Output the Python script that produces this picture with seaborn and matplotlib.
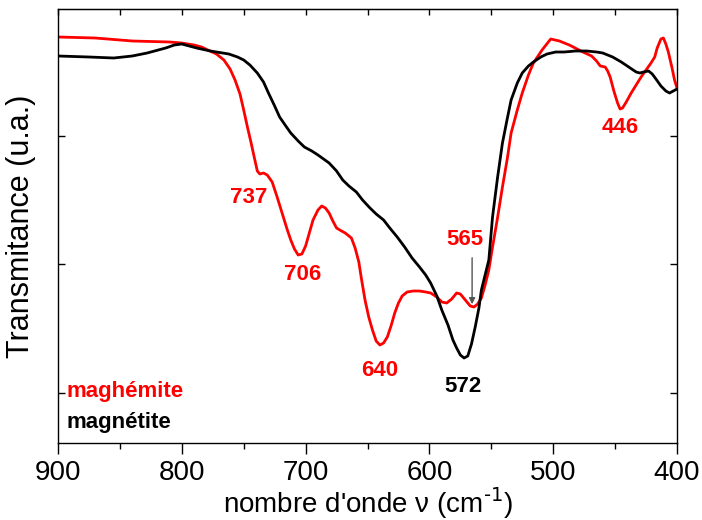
import numpy as np
import pandas as pd
import matplotlib
matplotlib.use("Agg")
import matplotlib.pyplot as plt
import seaborn as sns

# spectra (wavenumber in cm-1, transmittance in a.u.)
wn_maghemite = [900, 870, 840, 810, 800, 790, 784, 779, 772, 766, 761, 757, 753, 750,
                747, 744, 741, 739, 737, 734, 731, 727, 723, 719, 715, 712, 709, 706,
                703, 700, 697, 694, 690, 687, 684, 681, 678, 675, 671, 668, 663, 660,
                657, 655, 652, 649, 646, 643, 640, 637, 634, 631, 628, 625, 622, 618,
                613, 608, 603, 599, 594, 590, 586, 582, 578, 575, 571, 567, 564, 561,
                558, 555, 552, 549, 545, 541, 537, 534, 529, 525, 520, 516, 509, 502,
                495, 487, 476, 469, 465, 462, 458, 456, 454, 451, 448, 446, 444, 441,
                437, 433, 429, 425, 421, 418, 416, 413, 411, 409, 407, 404, 402, 400]
t_maghemite = [406, 405, 402, 401, 400, 398, 396, 393, 389, 383, 374, 363, 349, 333,
               316, 300, 283, 272, 269, 270, 268, 261, 246, 230, 214, 203, 194, 188,
               189, 197, 210, 223, 233, 237, 235, 230, 222, 215, 212, 210, 205, 195,
               181, 165, 143, 126, 113, 102, 98, 100, 106, 117, 130, 140, 147, 151,
               152, 152, 151, 150, 146, 141, 140, 144, 150, 149, 143, 137, 136, 139,
               145, 158, 173, 196, 225, 256, 285, 310, 333, 350, 368, 380, 393, 404,
               402, 398, 391, 387, 382, 377, 376, 372, 366, 352, 340, 334, 335, 341,
               350, 358, 366, 373, 380, 386, 395, 404, 405, 399, 391, 375, 363, 355]

wn_magnetite = [900, 875, 855, 840, 828, 813, 806, 800, 794, 788, 777, 762, 755, 750,
                745, 739, 734, 730, 725, 721, 716, 712, 706, 701, 695, 690, 681, 675,
                670, 665, 659, 654, 648, 643, 637, 632, 626, 620, 614, 608, 603, 599,
                594, 590, 585, 581, 578, 575, 572, 569, 566, 563, 560, 558, 555, 552,
                549, 545, 541, 537, 534, 529, 525, 520, 516, 510, 505, 498, 491, 482,
                473, 465, 460, 452, 445, 439, 433, 430, 427, 423, 420, 417, 413, 409,
                406, 403, 400]
t_magnetite = [387, 386, 385, 387, 390, 395, 398, 399, 397, 395, 392, 389, 386, 383,
               378, 370, 361, 350, 337, 326, 317, 310, 302, 296, 292, 288, 280, 272,
               263, 257, 251, 243, 235, 229, 223, 215, 206, 196, 185, 176, 168, 160,
               147, 133, 118, 103, 95, 88, 85, 87, 99, 116, 135, 153, 168, 183,
               226, 265, 300, 325, 343, 360, 370, 377, 381, 386, 389, 391, 391, 392,
               392, 391, 390, 386, 381, 376, 371, 370, 371, 372, 369, 364, 357, 352,
               350, 352, 354]

series_names = ["maghémite", "magnétite"]
series_colors = ["#ff0000", "#000000"]

# peak labels: text, x, y, colour index
peak_labels = ["737", "706", "640", "572", "446"]
peak_x = [746, 702, 640, 573, 446]
peak_y = [245, 168, 73, 57, 315]
peak_series = [0, 0, 0, 1, 0]

df = pd.concat([
    pd.DataFrame({"wn": wn_maghemite, "t": t_maghemite, "sample": series_names[0]}),
    pd.DataFrame({"wn": wn_magnetite, "t": t_magnetite, "sample": series_names[1]}),
])

sns.set_style("ticks", rc={"text.color": "black", "axes.labelcolor": "black",
                           "xtick.color": "black", "ytick.color": "black",
                           "axes.edgecolor": "black"})
plt.rcParams["font.family"] = ["Liberation Sans", "DejaVu Sans"]
plt.rcParams["mathtext.default"] = "regular"
narrow = ["Liberation Sans Narrow", "Liberation Sans", "DejaVu Sans"]

fig = plt.figure(figsize=(7.02, 5.2), dpi=100)
ax = fig.add_axes([58 / 702, 77 / 520, 619 / 702, 434 / 520])

sns.lineplot(data=df, x="wn", y="t", hue="sample", palette=series_colors,
             sort=False, estimator=None, linewidth=2, legend=False, ax=ax)

ax.set_xlim(900, 400)
ax.set_ylim(0, 434)
ax.set_xticks([900, 800, 700, 600, 500, 400])
ax.set_xticks(np.arange(400, 901, 50), minor=True)
ax.set_yticks([50, 179, 307])
ax.set_yticklabels([])
ax.tick_params(axis="x", which="major", direction="out", length=8, width=1,
               labelsize=20, pad=4)
ax.tick_params(axis="x", which="minor", direction="out", length=4, width=1)
ax.tick_params(axis="y", which="both", direction="in", length=5, width=1,
               left=True, right=True)
for sp in ax.spines.values():
    sp.set_linewidth(1)

top = ax.secondary_xaxis("top")
top.set_xticks(np.arange(400, 901, 50))
top.tick_params(direction="in", length=4, width=1, labeltop=False)

ax.set_xlabel(r"nombre d'onde ν (cm$^{\text{-1}}$)", fontsize=20, labelpad=0)
ax.set_ylabel("Transmitance (u.a.)", fontsize=22, labelpad=12)

for lab, x, y, s in zip(peak_labels, peak_x, peak_y, peak_series):
    ax.text(x, y, lab, color=series_colors[s], fontsize=16, fontweight="bold",
            family=narrow, ha="center", va="center")

# 565 with arrow pointing to the shoulder
ax.annotate("", xy=(565.5, 136), xytext=(565.5, 188),
            arrowprops=dict(arrowstyle="-|>", color="#555555", lw=1, mutation_scale=9))
ax.text(571, 203, "565", color=series_colors[0], fontsize=16, fontweight="bold",
        family=narrow, ha="center", va="center")

ax.text(0.013, 0.118, series_names[0], transform=ax.transAxes, color=series_colors[0],
        fontsize=16, fontweight="bold", family=narrow, va="center")
ax.text(0.013, 0.048, series_names[1], transform=ax.transAxes, color=series_colors[1],
        fontsize=16, fontweight="bold", family=narrow, va="center")

fig.savefig("out.png", dpi=100)
